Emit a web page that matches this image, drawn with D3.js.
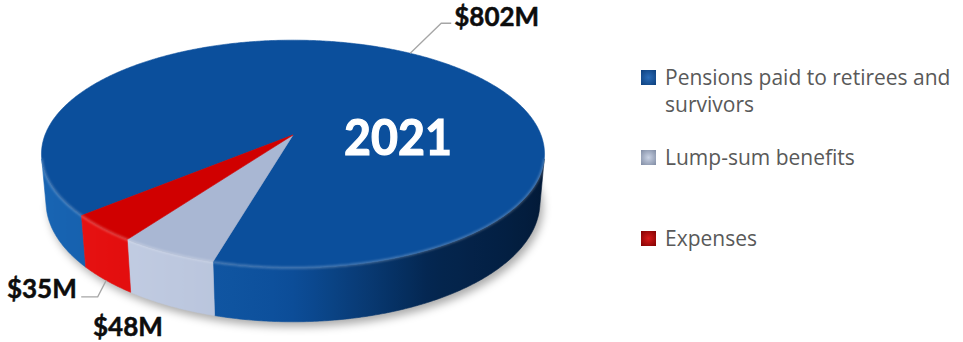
<!DOCTYPE html>
<html>
<head>
<meta charset="utf-8">
<script src="https://cdn.jsdelivr.net/npm/d3@7"></script>
<style>
  body { margin: 0; background: #fff; }
  svg { display: block; }
</style>
</head>
<body>
<svg id="chart" width="963" height="342"></svg>
<script>
// ---- data ----
const categories = ["Pensions paid to retirees and survivors", "Lump-sum benefits", "Expenses"];
const values = [802, 48, 35];                 // $ millions
const valueLabels = ["$802M", "$48M", "$35M"];
const legendLines = [["Pensions paid to retirees and", "survivors"], ["Lump-sum benefits"], ["Expenses"]];
const yearLabel = "2021";

// ---- styles ----
const topColors = ["#0b4f9c", "#a9b7d3", "#d00000"];
const wallColors = [
  ["#021631", "#04264f", "#0c4e9a", "#1864b2"],
  ["#5e6884", "#8591ad", "#b4c0d9", "#c6d0e5"],
  ["#5a0000", "#9a0000", "#d60000", "#e81414"]
];
const legendKeyColors = [["#2a6cb8", "#0b3c78"], ["#c9d2e4", "#7b879f"], ["#d81a1a", "#7a0000"]];
const labelFont = "Lato, 'Open Sans', 'DejaVu Sans', sans-serif";
const legendFont = "'Open Sans', 'DejaVu Sans', sans-serif";

// ---- 3D pie camera ----
const CX = 293, CY = 135;          // projected centre of the pie top
const K = 248;                     // screen scale
const ELEV = 26.5 * Math.PI / 180; // viewing elevation
const PERSP = 0.1667;              // radius / camera distance (x cos elev)
const THICK = 0.218;               // pie thickness in radius units
const START = 229.5 * Math.PI / 180;
const sinE = Math.sin(ELEV), cosE = Math.cos(ELEV), dz = PERSP * Math.tan(ELEV);

// theta: clockwise from the back of the pie (d3.pie convention); z: up
function project(theta, z = 0, r = 1) {
  const x = r * Math.sin(theta), y = -r * Math.cos(theta);
  const U = -y * sinE + z * cosE;
  const w = 1 - PERSP * y - dz * z;
  return [CX + K * x / w, CY - K * U / w];
}

const svg = d3.select("#chart");
const defs = svg.append("defs");

defs.append("filter").attr("id", "shadowBlur")
  .attr("x", "-20%").attr("y", "-20%").attr("width", "140%").attr("height", "140%")
  .append("feGaussianBlur").attr("stdDeviation", 4);
defs.append("filter").attr("id", "softEdge")
  .append("feGaussianBlur").attr("stdDeviation", 0.9);

const pie = d3.pie().sort(null).value(d => d)
  .startAngle(START).endAngle(START + 2 * Math.PI);
const arcs = pie(values);

const line = d3.line();
const DEG = Math.PI / 180;

function arcPoints(a0, a1, z) {
  const n = Math.max(2, Math.ceil(Math.abs(a1 - a0) / (0.5 * DEG)));
  return d3.range(n + 1).map(i => project(a0 + (a1 - a0) * i / n, z));
}

// drop shadow under the pie
const shadowG = svg.append("g").attr("filter", "url(#shadowBlur)")
  .attr("transform", "translate(3,5)");
shadowG.append("path")
  .attr("d", line(arcPoints(0, 2 * Math.PI, -THICK)) + "Z")
  .attr("fill", "rgba(0,0,0,0.33)");

// outer wall: visible where the wall faces the camera
const camDist = cosE / PERSP;
const visLimit = Math.acos(-1 / (camDist * cosE));   // ~102 deg
const visRanges = [0, 1, 2].map(k => [visLimit + 2 * Math.PI * k, 2 * Math.PI - visLimit + 2 * Math.PI * k]);

const lightDir = (() => { const l = [-1, 0.3], m = Math.hypot(...l); return [l[0] / m, l[1] / m]; })();
function lightDot(theta) {
  return Math.sin(theta) * lightDir[0] + (-Math.cos(theta)) * lightDir[1];
}

const wallG = svg.append("g");
arcs.forEach((a, i) => {
  const shade = d3.scaleLinear().domain([-1, -0.2, 0.3, 1]).range(wallColors[i])
    .interpolate(d3.interpolateRgb).clamp(true);
  visRanges.forEach((r, k) => {
    const lo = Math.max(a.startAngle, r[0]), hi = Math.min(a.endAngle, r[1]);
    if (hi <= lo) return;
    const top = arcPoints(lo, hi, 0);
    const bottom = arcPoints(lo, hi, -THICK).reverse();
    const x0 = project(lo)[0], x1 = project(hi)[0];
    const gid = `wall-${i}-${k}`;
    const grad = defs.append("linearGradient").attr("id", gid)
      .attr("gradientUnits", "userSpaceOnUse")
      .attr("x1", x0).attr("y1", 0).attr("x2", x1).attr("y2", 0);
    const steps = 24;
    d3.range(steps + 1).forEach(s => {
      const t = lo + (hi - lo) * s / steps;
      const off = (project(t)[0] - x0) / (x1 - x0);
      grad.append("stop").attr("offset", Math.max(0, Math.min(1, off)))
        .attr("stop-color", shade(lightDot(t)));
    });
    wallG.append("path")
      .attr("d", line(top.concat(bottom)) + "Z")
      .attr("fill", `url(#${gid})`)
      .attr("stroke", `url(#${gid})`).attr("stroke-width", 0.6);
  });
});

// top faces
const topG = svg.append("g");
arcs.forEach((a, i) => {
  const pts = [project(0, 0, 0)].concat(arcPoints(a.startAngle, a.endAngle, 0));
  topG.append("path")
    .attr("d", line(pts) + "Z")
    .attr("fill", topColors[i])
    .attr("stroke", topColors[i]).attr("stroke-width", 0.6);
});

// soft highlight along the front rim
svg.append("path")
  .attr("d", line(arcPoints(visLimit, 2 * Math.PI - visLimit, 0)))
  .attr("fill", "none").attr("stroke", "rgba(255,255,255,0.28)")
  .attr("stroke-width", 2).attr("filter", "url(#softEdge)");

// year caption on the pie
svg.append("text")
  .attr("x", 398).attr("y", 155)
  .attr("text-anchor", "middle")
  .attr("font-family", labelFont)
  .attr("font-weight", 700).attr("font-size", 50)
  .attr("textLength", 108).attr("lengthAdjust", "spacingAndGlyphs")
  .attr("fill", "#fff")
  .attr("stroke", "#fff").attr("stroke-width", 1.2)
  .text(yearLabel);

// value labels with leader lines
const labelLayout = [
  { leader: [[31, -30], [41, -30]], text: [44, -27], anchor: "start" },
  { leader: null, text: [-42, 30], anchor: "middle" },
  { leader: [[-8.5, 16.5], [-25, 16.5]], text: [-29.5, 18], anchor: "end" }
];
arcs.forEach((a, i) => {
  const mid = (a.startAngle + a.endAngle) / 2;
  const m = ((mid % (2 * Math.PI)) + 2 * Math.PI) % (2 * Math.PI);
  const onWall = m > visLimit && m < 2 * Math.PI - visLimit;
  const p = project(mid, onWall ? -THICK : 0);
  const L = labelLayout[i];
  if (L.leader) {
    svg.append("path")
      .attr("d", line([p].concat(L.leader.map(d => [p[0] + d[0], p[1] + d[1]]))))
      .attr("fill", "none").attr("stroke", "#a6a6a6").attr("stroke-width", 1.3);
  }
  svg.append("text")
    .attr("x", p[0] + L.text[0]).attr("y", p[1] + L.text[1])
    .attr("text-anchor", L.anchor)
    .attr("font-family", labelFont)
    .attr("font-weight", 700).attr("font-size", 26)
    .attr("fill", "#0d0d0d")
    .attr("stroke", "#0d0d0d").attr("stroke-width", 0.5)
    .text(valueLabels[i]);
});

// legend
const legendX = 641, keySize = 15, textX = 665;
const legendTops = [70, 150, 231];
const lineGap = 27;
const legend = svg.append("g");
categories.forEach((c, i) => {
  const gid = `key-${i}`;
  const g = defs.append("radialGradient").attr("id", gid).attr("r", "0.75");
  g.append("stop").attr("offset", 0).attr("stop-color", legendKeyColors[i][0]);
  g.append("stop").attr("offset", 1).attr("stop-color", legendKeyColors[i][1]);
  legend.append("rect")
    .attr("x", legendX).attr("y", legendTops[i])
    .attr("width", keySize).attr("height", keySize)
    .attr("fill", `url(#${gid})`);
  legendLines[i].forEach((t, j) => {
    legend.append("text")
      .attr("x", textX).attr("y", legendTops[i] + keySize + j * lineGap)
      .attr("font-family", legendFont)
      .attr("font-size", 21).attr("fill", "#595959")
      .text(t);
  });
});
</script>
</body>
</html>
